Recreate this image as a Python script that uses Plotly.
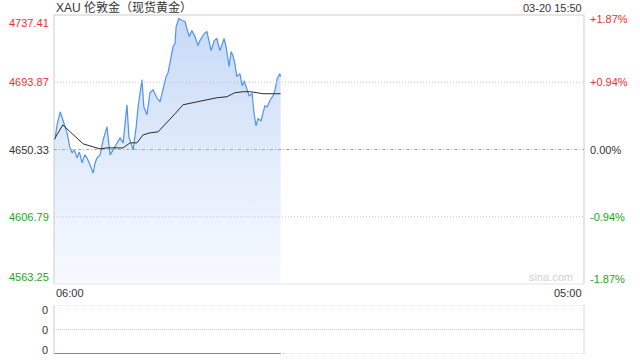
import pandas as pd
import plotly.graph_objects as go

# ---------------- data ----------------
title_text = "XAU 伦敦金（现货黄金）"
stamp_text = "03-20 15:50"
base_date = "2025-03-20"
axis_start = "2025-03-20 06:00"
axis_end = "2025-03-21 05:00"
x_tick_labels = ["06:00", "05:00"]

price_times = [
    "06:00", "06:03", "06:08", "06:16", "06:23", "06:34", "06:41", "06:47", "06:53", "07:00",
    "07:06", "07:13", "07:20", "07:26", "07:34", "07:42", "07:47", "07:52", "08:00", "08:08",
    "08:18", "08:26", "08:34", "08:44", "08:52", "09:00", "09:10", "09:15", "09:26", "09:34",
    "09:39", "09:49", "09:54", "10:02", "10:10", "10:18", "10:28", "10:36", "10:44", "10:52",
    "10:57", "11:05", "11:10", "11:15", "11:18", "11:25", "11:33", "11:41", "11:46", "11:52",
    "11:59", "12:07", "12:15", "12:20", "12:31", "12:38", "12:44", "12:49", "12:57", "13:04",
    "13:12", "13:23", "13:28", "13:33", "13:36", "13:41", "13:46", "13:51", "13:56", "14:04",
    "14:10", "14:15", "14:23", "14:28", "14:36", "14:41", "14:46", "14:51", "14:59", "15:04",
    "15:09", "15:15", "15:22", "15:30", "15:35", "15:41", "15:48", "15:50",
]
prices = [
    4656.56, 4657.86, 4666.30, 4674.75, 4669.55, 4661.11, 4652.02, 4648.12, 4650.07, 4644.87,
    4648.77, 4641.63, 4646.82, 4644.87, 4640.33, 4635.13, 4641.63, 4644.87, 4646.82, 4656.56,
    4665.01, 4646.82, 4650.07, 4654.62, 4657.86, 4654.62, 4679.29, 4658.51, 4650.07, 4665.01,
    4677.99, 4695.53, 4677.99, 4672.80, 4687.09, 4689.03, 4683.84, 4681.24, 4689.03, 4697.48,
    4700.07, 4709.81, 4716.96, 4718.91, 4729.95, 4735.14, 4733.84, 4733.19, 4728.65, 4723.45,
    4727.35, 4723.45, 4717.61, 4720.85, 4725.40, 4726.70, 4720.21, 4714.36, 4720.85, 4722.15,
    4714.36, 4722.15, 4716.96, 4707.87, 4703.97, 4713.71, 4711.11, 4705.92, 4697.48, 4699.42,
    4691.63, 4694.88, 4688.38, 4685.14, 4686.44, 4673.45, 4665.66, 4670.20, 4668.90, 4673.45,
    4678.64, 4677.99, 4681.89, 4685.14, 4688.38, 4696.18, 4699.42, 4697.48,
]

avg_times = [
    "06:00", "06:23", "06:42", "07:00", "07:16", "07:42", "08:00", "08:18", "08:44", "09:00",
    "09:18", "09:36", "09:52", "10:10", "10:31", "10:54", "11:15", "11:36", "12:02", "12:38",
    "13:04", "13:30", "13:51", "14:12", "14:30", "14:49", "15:04", "15:28", "15:50",
]
avg_prices = [
    4656.56, 4666.30, 4661.76, 4657.86, 4653.97, 4652.02, 4650.72, 4651.37, 4651.37, 4651.37,
    4654.62, 4654.62, 4659.81, 4661.11, 4661.76, 4667.60, 4673.45, 4679.29, 4680.59, 4682.54,
    4683.84, 4684.49, 4687.09, 4687.74, 4687.74, 4687.09, 4686.44, 4686.44, 4686.44,
]

volume_times = ["06:00", "15:50"]
volumes = [0, 0]

price_ticks = [4737.41, 4693.87, 4650.33, 4606.79, 4563.25]
price_tick_labels = ["4737.41", "4693.87", "4650.33", "4606.79", "4563.25"]
pct_tick_labels = ["+1.87%", "+0.94%", "0.00%", "-0.94%", "-1.87%"]
volume_tick_labels = ["0", "0", "0"]
watermark = "sina.com"

# ---------------- styles ----------------
RED = "#f23030"
GREEN = "#1ea51e"
DARK = "#333333"
FONT = "Arial, 'Liberation Sans', 'Noto Sans CJK SC', sans-serif"
tick_colors = [RED, RED, DARK, GREEN, GREEN]

to_dt = lambda ts: pd.to_datetime([f"{base_date} {t}" for t in ts])
px = to_dt(price_times)
ax = to_dt(avg_times)
vx = to_dt(volume_times)
ymin, ymax = price_ticks[-1], price_ticks[0]

fig = go.Figure()
fig.add_trace(go.Scatter(x=px, y=[ymin] * len(px), mode="lines",
                         line=dict(width=0), hoverinfo="skip", showlegend=False))
fig.add_trace(go.Scatter(
    x=px, y=prices, mode="lines", fill="tonexty",
    line=dict(color="#5092f2", width=1.2),
    fillgradient=dict(type="vertical", start=ymin, stop=ymax,
                      colorscale=[[0, "#f7faff"], [0.5, "#e0ebfb"], [1, "#c6d9f6"]]),
    showlegend=False))
fig.add_trace(go.Scatter(x=ax, y=avg_prices, mode="lines",
                         line=dict(color="#2b2b2b", width=1), showlegend=False))
fig.add_trace(go.Scatter(x=vx, y=volumes, mode="lines", xaxis="x2", yaxis="y2",
                         line=dict(color="#666666", width=1.5), showlegend=False))

main_dom = [0.2065, 1.0]
vol_dom = [0.0, 0.1445]
fig.update_layout(
    width=640, height=360,
    margin=dict(l=54, r=56, t=15, b=6),
    paper_bgcolor="white", plot_bgcolor="white",
    font=dict(family=FONT, size=11, color=DARK),
    xaxis=dict(range=[axis_start, axis_end], type="date", showgrid=False,
               showticklabels=False, zeroline=False, showline=False, anchor="y"),
    yaxis=dict(range=[ymin, ymax], domain=main_dom, showgrid=False,
               showticklabels=False, zeroline=False, showline=False),
    xaxis2=dict(range=[axis_start, axis_end], type="date", showgrid=False,
                showticklabels=False, zeroline=False, showline=False, anchor="y2",
                matches="x"),
    yaxis2=dict(range=[0, 1], domain=vol_dom, showgrid=False,
                showticklabels=False, zeroline=False, showline=False),
)

shapes = []
# main frame
shapes.append(dict(type="line", xref="paper", yref="paper", x0=0, x1=0,
                   y0=main_dom[0], y1=main_dom[1], line=dict(color="#cccccc", width=1)))
shapes.append(dict(type="line", xref="paper", yref="paper", x0=1, x1=1,
                   y0=main_dom[0], y1=main_dom[1], line=dict(color="#cccccc", width=1)))
shapes.append(dict(type="line", xref="paper", yref="paper", x0=0, x1=1,
                   y0=main_dom[1], y1=main_dom[1], line=dict(color="#cccccc", width=1)))
shapes.append(dict(type="line", xref="paper", yref="paper", x0=0, x1=1,
                   y0=main_dom[0], y1=main_dom[0], line=dict(color="#e4e4e4", width=1)))
# gridlines
for v in price_ticks[1:-1]:
    mid = v == price_ticks[2]
    shapes.append(dict(type="line", xref="paper", yref="y", x0=0, x1=1, y0=v, y1=v,
                       line=dict(color="#a8a8a8" if mid else "#c4c4c4", width=1,
                                 dash="3px,2px,1px,2px" if mid else "1px,2px"),
                       layer="above"))
# volume frame
for yv in [0, 0.5, 1]:
    shapes.append(dict(type="line", xref="paper", yref="y2", x0=0, x1=1, y0=yv, y1=yv,
                       line=dict(color="#c8c8c8", width=1, dash="1px,1px"), layer="below"))
shapes.append(dict(type="line", xref="paper", yref="paper", x0=0, x1=0,
                   y0=vol_dom[0], y1=vol_dom[1], line=dict(color="#cccccc", width=1)))
shapes.append(dict(type="line", xref="paper", yref="paper", x0=1, x1=1,
                   y0=vol_dom[0], y1=vol_dom[1], line=dict(color="#d8d8d8", width=1)))
fig.update_layout(shapes=shapes)

ann = []
ann.append(dict(text=title_text, xref="paper", yref="paper", x=0, y=1, xanchor="left",
                yanchor="bottom", yshift=-2, showarrow=False,
                font=dict(size=12, color=DARK)))
ann.append(dict(text=stamp_text, xref="paper", yref="paper", x=1, y=1, xanchor="right",
                yanchor="bottom", yshift=-1, showarrow=False,
                font=dict(size=11, color=DARK)))
n = len(price_ticks)
for i, (v, lab, pl, c) in enumerate(zip(price_ticks, price_tick_labels, pct_tick_labels, tick_colors)):
    ys = -8 if i == 0 else (7 if i == n - 1 else 0)
    yr = -4 if i == 0 else (5 if i == n - 1 else 0)
    ann.append(dict(text=lab, xref="paper", yref="y", x=0, y=v, xanchor="right",
                    yanchor="middle", xshift=-3, yshift=ys, showarrow=False,
                    font=dict(size=11, color=c)))
    ann.append(dict(text=pl, xref="paper", yref="y", x=1, y=v, xanchor="left",
                    yanchor="middle", xshift=4, yshift=yr, showarrow=False,
                    font=dict(size=11, color=c)))
ann.append(dict(text=x_tick_labels[0], xref="x", yref="paper", x=axis_start, y=main_dom[0],
                xanchor="left", yanchor="top", yshift=-1, showarrow=False,
                font=dict(size=11, color=DARK)))
ann.append(dict(text=x_tick_labels[1], xref="x", yref="paper", x=axis_end, y=main_dom[0],
                xanchor="right", yanchor="top", yshift=-1, showarrow=False,
                font=dict(size=11, color=DARK)))
ann.append(dict(text=watermark, xref="paper", yref="paper", x=1, y=main_dom[0],
                xanchor="right", yanchor="bottom", xshift=-9, yshift=-1, showarrow=False,
                font=dict(size=11, color="#cfcfcf")))
for yv, lab, ys in zip([1, 0.5, 0], volume_tick_labels, [-5, 0, 4]):
    ann.append(dict(text=lab, xref="paper", yref="y2", x=0, y=yv, xanchor="right",
                    yanchor="middle", xshift=-4, yshift=ys, showarrow=False,
                    font=dict(size=11, color=DARK)))
fig.update_layout(annotations=ann)

fig.write_html("out.html")
